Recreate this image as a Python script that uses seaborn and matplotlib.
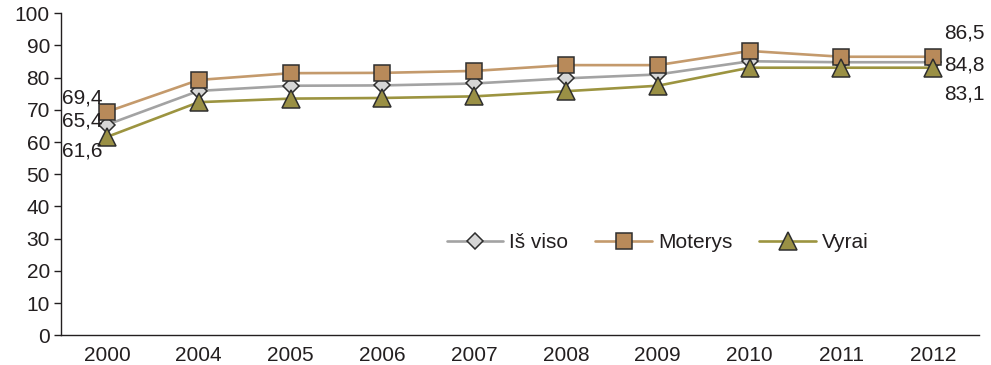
import matplotlib
matplotlib.use('Agg')
import matplotlib.pyplot as plt
import pandas as pd
import seaborn as sns
from matplotlib.ticker import FixedLocator

# Data
years = ['2000', '2004', '2005', '2006', '2007', '2008', '2009', '2010', '2011', '2012']
is_viso = [65.4, 75.9, 77.5, 77.6, 78.2, 79.8, 81.0, 85.1, 84.8, 84.8]
moterys = [69.4, 79.3, 81.4, 81.5, 82.1, 83.9, 83.9, 88.3, 86.5, 86.5]
vyrai = [61.6, 72.4, 73.5, 73.7, 74.2, 75.8, 77.5, 83.1, 83.1, 83.1]

sns.set_style('white')
plt.rcParams['font.family'] = ['Liberation Sans', 'DejaVu Sans']
plt.rcParams['text.color'] = '#231f20'

df = pd.DataFrame({'year': years, 'Iš viso': is_viso,
                   'Moterys': moterys, 'Vyrai': vyrai})

fig = plt.figure(figsize=(9.91, 3.65), dpi=100)
ax = fig.add_axes([0.0616, 0.0814, 0.9264, 0.8822])

styles = {
  'Iš viso': dict(color='#a3a3a3', marker='D', markerfacecolor='#d6d6d6', markersize=8.5),
  'Moterys': dict(color='#c49a6c', marker='s', markerfacecolor='#b88a5a', markersize=11),
  'Vyrai': dict(color='#9c9440', marker='^', markerfacecolor='#9a9045', markersize=13),
}
for name, st in styles.items():
  sns.lineplot(data=df, x='year', y=name, ax=ax, label=name, linewidth=1.9,
               markeredgecolor='#2e2e2e', markeredgewidth=1.1, **st)

fs = 15
ax.set_ylim(0, 100)
ax.set_xlim(-0.5, 9.5)
ax.set_yticks(range(0, 101, 10))
ax.set_xticks(range(len(years)))
ax.set_xticklabels(years)
ax.xaxis.set_minor_locator(FixedLocator([i - 0.5 for i in range(len(years) + 1)]))
ax.tick_params(axis='x', which='major', length=0, labelsize=fs, pad=8, colors='#231f20')
ax.tick_params(axis='x', which='minor', length=6, width=1, direction='out', color='#231f20')
ax.tick_params(axis='y', length=5, width=1, direction='out', labelsize=fs, pad=3,
               colors='#231f20', left=True)
ax.set_xlabel('')
ax.set_ylabel('')
sns.despine(ax=ax)
for s in ['left', 'bottom']:
  ax.spines[s].set_color('#231f20')
  ax.spines[s].set_linewidth(1.0)

# Value labels at the ends
ax.annotate('69,4', (0, moterys[0]), xytext=(-3.5, 10), textcoords='offset points',
            ha='right', va='center', fontsize=fs)
ax.annotate('65,4', (0, is_viso[0]), xytext=(-3.5, 3), textcoords='offset points',
            ha='right', va='center', fontsize=fs)
ax.annotate('61,6', (0, vyrai[0]), xytext=(-3.5, -10), textcoords='offset points',
            ha='right', va='center', fontsize=fs)
ax.annotate('86,5', (9, moterys[-1]), xytext=(8, 17), textcoords='offset points',
            ha='left', va='center', fontsize=fs)
ax.annotate('84,8', (9, is_viso[-1]), xytext=(8, -2), textcoords='offset points',
            ha='left', va='center', fontsize=fs)
ax.annotate('83,1', (9, vyrai[-1]), xytext=(8, -19), textcoords='offset points',
            ha='left', va='center', fontsize=fs)

ax.legend(loc='center', bbox_to_anchor=(0.65, 0.287), ncol=3, frameon=False,
          fontsize=fs, handlelength=2.7, columnspacing=1.3, handletextpad=0.3)

fig.savefig('out.png', dpi=100)
